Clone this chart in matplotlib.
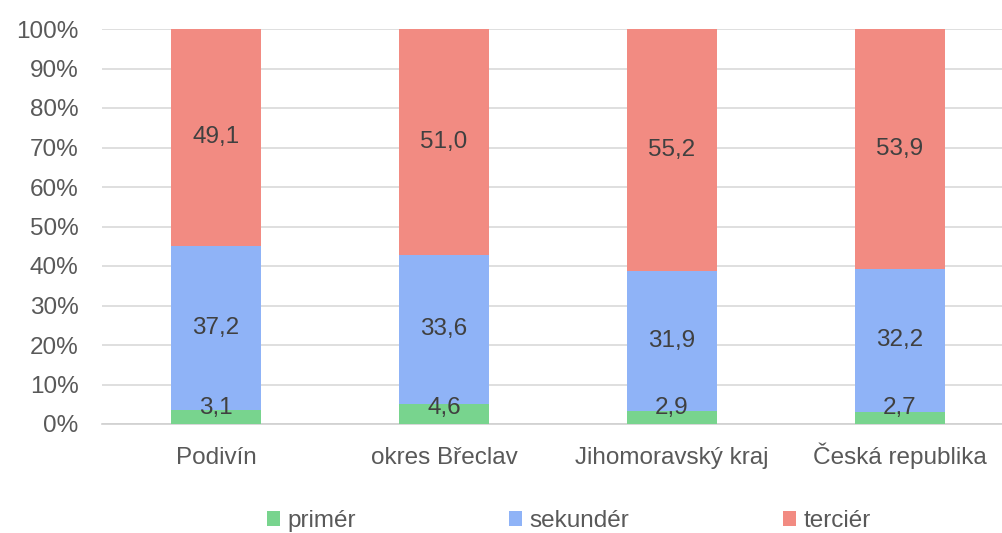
import matplotlib
matplotlib.use("Agg")
import matplotlib.pyplot as plt
import numpy as np

plt.rcParams['font.family'] = ['Liberation Sans', 'DejaVu Sans']

kategorie = ["Podivín", "okres Břeclav", "Jihomoravský kraj", "Česká republika"]
primer = [3.1, 4.6, 2.9, 2.7]
sekunder = [37.2, 33.6, 31.9, 32.2]
tercier = [49.1, 51.0, 55.2, 53.9]
nazvy = ["primér", "sekundér", "terciér"]
barvy = ["#78D48E", "#8FB3F7", "#F28B82"]

data = np.array([primer, sekunder, tercier])
podil = data / data.sum(axis=0) * 100

fig = plt.figure(figsize=(10.03, 5.33), dpi=100)
ax = fig.add_axes([102 / 1003, 109 / 533, 901 / 1003, 395 / 533])

x = np.arange(len(kategorie))
spodek = np.zeros(len(kategorie))
handles = []
for i in range(3):
    b = ax.bar(x, podil[i], 0.395, bottom=spodek, color=barvy[i], zorder=3, label=nazvy[i])
    handles.append(b)
    for j in range(len(kategorie)):
        yy = spodek[j] + podil[i][j] / 2
        if i == 0:
            yy = 4.0
        ax.text(x[j], yy, ("%.1f" % data[i][j]).replace(".", ","),
                ha="center", va="center", fontsize=17.5, color="#404040", zorder=4)
    spodek += podil[i]

ax.set_xlim(-0.5, 3.452)
ax.set_ylim(0, 100)
ax.set_yticks(range(0, 101, 10))
ax.set_yticklabels(["%d%%" % v for v in range(0, 101, 10)])
ax.set_xticks(x)
ax.set_xticklabels(kategorie)
ax.tick_params(axis="both", length=0, labelsize=17.5, colors="#595959")
ax.tick_params(axis="x", pad=29)
ax.tick_params(axis="y", pad=17)
for lbl in ax.get_xticklabels():
    lbl.set_va("baseline")
ax.grid(axis="y", color="#D9D9D9", linewidth=1.2, zorder=0)
for s in ["top", "right", "left"]:
    ax.spines[s].set_visible(False)
ax.spines["bottom"].set_color("#D0D0D0")
ax.spines["bottom"].set_linewidth(1.2)

fig.legend(handles=handles, labels=nazvy, loc="center", bbox_to_anchor=(0.567, 0.022),
           ncol=3, frameon=False, fontsize=17.5, labelcolor="#595959",
           handlelength=0.55, handleheight=0.55, handletextpad=0.3, columnspacing=6.3)

fig.savefig("out.png", dpi=100)
